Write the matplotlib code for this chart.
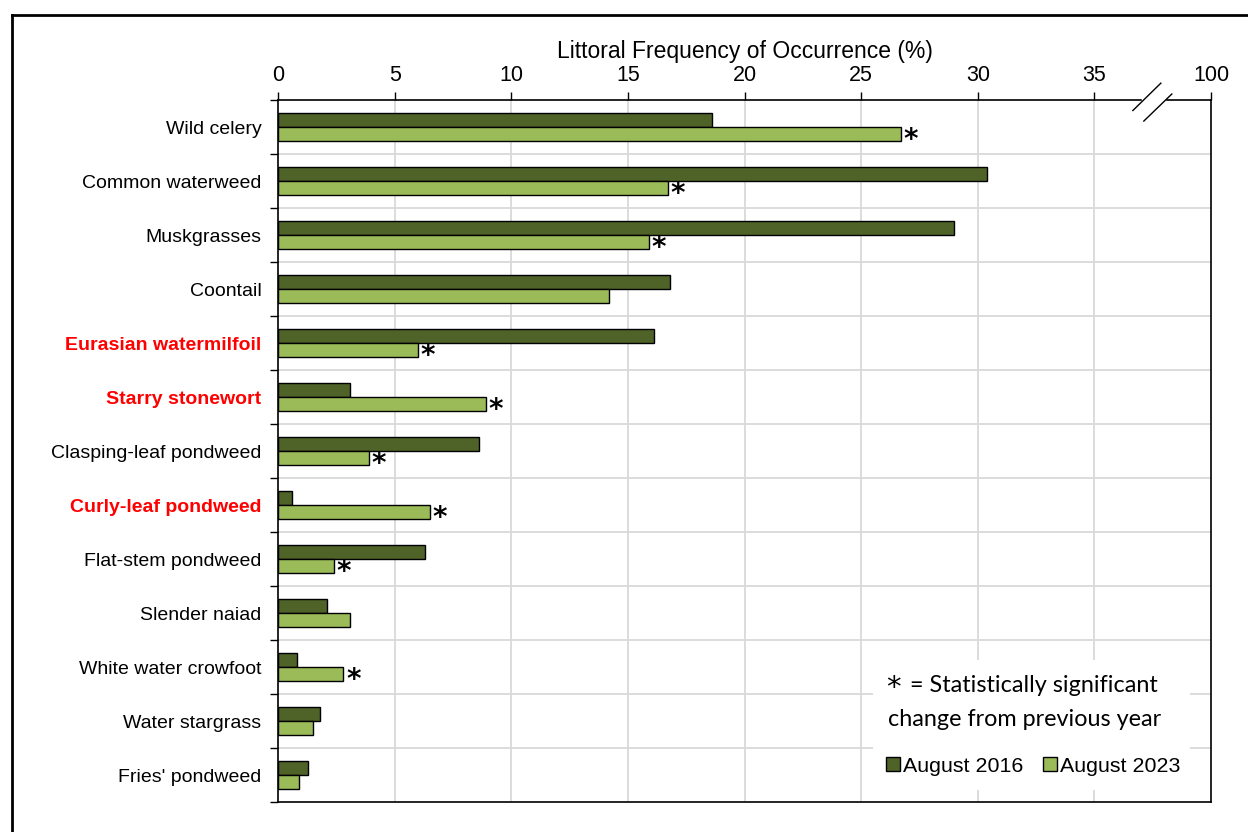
import numpy as np
import matplotlib
matplotlib.use("Agg")
import matplotlib.pyplot as plt
from matplotlib.patches import Patch, Rectangle
from matplotlib.lines import Line2D
import matplotlib.transforms as mtransforms

plt.rcParams['font.family'] = ['Liberation Sans', 'DejaVu Sans']

# Littoral frequency of occurrence (%) by species
species = ["Wild celery", "Common waterweed", "Muskgrasses", "Coontail",
           "Eurasian watermilfoil", "Starry stonewort", "Clasping-leaf pondweed",
           "Curly-leaf pondweed", "Flat-stem pondweed", "Slender naiad",
           "White water crowfoot", "Water stargrass", "Fries' pondweed"]
aug_2016 = [18.6, 30.4, 29.0, 16.8, 16.1, 3.1, 8.6, 0.6, 6.3, 2.1, 0.8, 1.8, 1.3]
aug_2023 = [26.7, 16.7, 15.9, 14.2, 6.0, 8.9, 3.9, 6.5, 2.4, 3.1, 2.8, 1.5, 0.9]
significant = [True, True, True, False, True, True, True, True, True,
               False, True, False, False]
invasive = ["Eurasian watermilfoil", "Starry stonewort", "Curly-leaf pondweed"]

tick_vals = [0, 5, 10, 15, 20, 25, 30, 35, 40]
tick_labels = ["0", "5", "10", "15", "20", "25", "30", "35", "100"]

dark = "#4F6228"
light = "#9BBB59"

fig = plt.figure(figsize=(12.48, 8.32), dpi=100)
W, H = 1248, 832
ax = fig.add_axes([278 / W, 1 - 802 / H, (1211 - 278) / W, (802 - 100) / H])

y = np.arange(len(species))
h = 0.26
ax.barh(y - h / 2, aug_2016, height=h, color=dark, edgecolor="black",
        linewidth=1.0, label="August 2016", zorder=2)
ax.barh(y + h / 2, aug_2023, height=h, color=light, edgecolor="black",
        linewidth=1.0, label="August 2023", zorder=2)

# significance markers
for yi, v, s in zip(y, aug_2023, significant):
    if s:
        ax.annotate("*", xy=(v, yi + h / 2), xytext=(2, -4), textcoords="offset points",
                    ha="left", va="center", fontsize=20, fontweight="bold",
                    fontfamily="DejaVu Sans", color="black", zorder=4)

ax.set_xlim(0, 40)
ax.set_ylim(len(species) - 0.5, -0.5)

# x axis on top
ax.xaxis.tick_top()
ax.xaxis.set_label_position("top")
ax.set_xticks(tick_vals)
ax.set_xticklabels(tick_labels)
ax.tick_params(axis="x", which="major", direction="out", length=6, width=1,
               labelsize=15.5, pad=4, colors="black")
ax.set_xlabel("Littoral Frequency of Occurrence (%)", fontsize=16.5, labelpad=5)

# category labels centred, ticks at group boundaries
ax.set_yticks(y)
ax.set_yticklabels(species)
ax.tick_params(axis="y", which="major", length=0, labelsize=14, pad=12)
ax.set_yticks(np.arange(len(species) + 1) - 0.5, minor=True)
ax.tick_params(axis="y", which="minor", direction="out", length=6, width=1)
for lbl in ax.get_yticklabels():
    if lbl.get_text() in invasive:
        lbl.set_color("#FF0000")
        lbl.set_fontweight("bold")

# grid
for xv in tick_vals[1:-1]:
    ax.axvline(xv, color="#D9D9D9", linewidth=1.3, zorder=0.5)
for yv in np.arange(1, len(species)) - 0.5:
    ax.axhline(yv, color="#D9D9D9", linewidth=1.3, zorder=0.5)

for sp in ax.spines.values():
    sp.set_linewidth(1.2)
    sp.set_color("black")

# axis break marks between 35 and 100
bt = mtransforms.blended_transform_factory(ax.transData, ax.transAxes)
ax.add_line(Line2D([37.1, 38.0], [1.0, 1.0], color="white", linewidth=2.5,
                   transform=bt, clip_on=False, zorder=5))
ax.add_line(Line2D([36.65, 37.85], [0.985, 1.024], color="black", linewidth=1,
                   transform=bt, clip_on=False, zorder=6))
ax.add_line(Line2D([37.12, 38.32], [0.970, 1.0085], color="black", linewidth=1,
                   transform=bt, clip_on=False, zorder=6))

# legend panel
ax.add_patch(Rectangle((873 / W, 1 - 790 / H), (1190 - 873) / W, (790 - 660) / H,
                       transform=fig.transFigure, facecolor="white", edgecolor="none",
                       zorder=3))
fig.text(886 / W, 1 - 688 / H, "*", fontsize=21, fontfamily="DejaVu Sans",
         ha="left", va="center", zorder=4)
fig.text(910 / W, 1 - 686 / H, "= Statistically significant",
         fontsize=16.8, fontfamily="Lato", ha="left", va="center", zorder=4)
fig.text(888 / W, 1 - 719 / H, "change from previous year",
         fontsize=16.8, fontfamily="Lato", ha="left", va="center", zorder=4)
handles = [Patch(facecolor=dark, edgecolor="black", linewidth=1, label="August 2016"),
           Patch(facecolor=light, edgecolor="black", linewidth=1, label="August 2023")]
leg = ax.legend(handles=handles, loc="center left", bbox_to_anchor=(886 / W, 1 - 766 / H),
                bbox_transform=fig.transFigure, ncol=2, frameon=False, fontsize=15.4,
                handlelength=0.65, handleheight=0.65, handletextpad=0.15,
                columnspacing=0.9, borderpad=0, borderaxespad=0)
leg.set_zorder(4)

# outer frame
fig.add_artist(Line2D([12 / W, 12 / W], [0, 1 - 15 / H], color="black", linewidth=2,
                      transform=fig.transFigure))
fig.add_artist(Line2D([12 / W, 1], [1 - 15 / H, 1 - 15 / H], color="black", linewidth=2,
                      transform=fig.transFigure))

fig.savefig("out.png", dpi=100)
